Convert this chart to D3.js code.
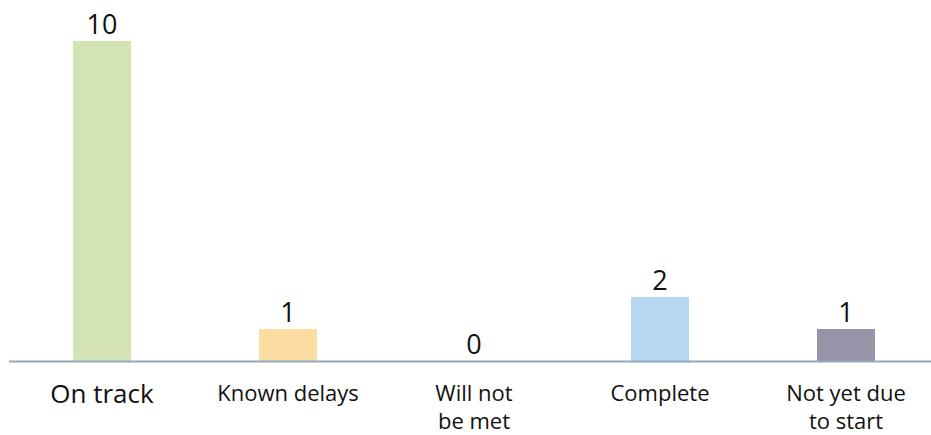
<!DOCTYPE html>
<meta charset="utf-8">
<html lang="en">
  <head>
    <style>
      body { margin: 0; background-color: #fff; }
      text { font-family: "Open Sans", "Noto Sans", sans-serif; fill: #111; }
    </style>
  </head>
  <body>
    <script src="https://cdn.jsdelivr.net/npm/d3@7/dist/d3.min.js"></script>
    <svg></svg>
    <script>

      var categories = [["On track"], ["Known delays"], ["Will not", "be met"], ["Complete"], ["Not yet due", "to start"]];
      var values = [10, 1, 0, 2, 1];
      var colors = ["#d2e3b4", "#fddca4", "#c9c9c9", "#b6d6f2", "#9993a9"];
      var labelSizes = [26, 22, 22, 22, 22];

      var width = 931,
        height = 435;

      var svg = d3.select("svg")
        .attr("width", width)
        .attr("height", height);

      var xScale = d3.scaleBand()
        .domain(d3.range(categories.length))
        .range([9, 939])
        .paddingInner(0.688)
        .paddingOuter(0.344);

      var yScale = d3.scaleLinear()
        .domain([0, 10])
        .range([361, 41]);

      svg.selectAll(".bar")
        .data(values)
        .enter().append("rect")
        .attr("class", "bar")
        .attr("x", function(d, i) { return xScale(i); })
        .attr("y", function(d) { return yScale(d); })
        .attr("width", xScale.bandwidth())
        .attr("height", function(d) { return yScale(0) - yScale(d); })
        .attr("fill", function(d, i) { return colors[i]; });

      svg.append("line")
        .attr("x1", 9)
        .attr("x2", width)
        .attr("y1", yScale(0) + 0.5)
        .attr("y2", yScale(0) + 0.5)
        .attr("stroke", "#8ea9bc")
        .attr("stroke-width", 2);

      svg.selectAll(".value")
        .data(values)
        .enter().append("text")
        .attr("class", "value")
        .attr("x", function(d, i) { return xScale(i) + xScale.bandwidth() / 2; })
        .attr("y", function(d) { return yScale(d) - 7; })
        .attr("text-anchor", "middle")
        .style("font-size", "27px")
        .text(function(d) { return d; });

      var labels = svg.selectAll(".label")
        .data(categories)
        .enter().append("text")
        .attr("class", "label")
        .attr("text-anchor", "middle")
        .attr("y", function(d, i) { return i == 0 ? 403 : 401; })
        .style("font-size", function(d, i) { return labelSizes[i] + "px"; });

      labels.selectAll("tspan")
        .data(function(d, i) { return d.map(function(s) { return {s: s, i: i}; }); })
        .enter().append("tspan")
        .attr("x", function(d) { return xScale(d.i) + xScale.bandwidth() / 2; })
        .attr("dy", function(d, j) { return j == 0 ? 0 : 28; })
        .text(function(d) { return d.s; });

    </script>
  </body>
</html>
